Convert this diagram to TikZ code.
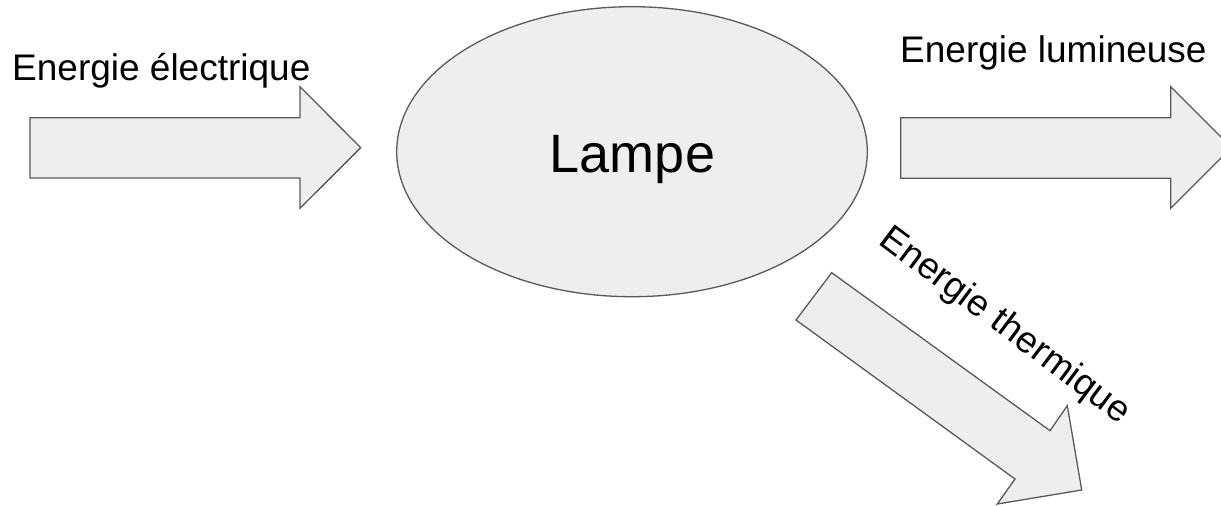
\documentclass[tikz,border=0pt]{standalone}
\usepackage{fontspec}
\setmainfont{Liberation Sans}
\usetikzlibrary{shapes.geometric}
\definecolor{edgegray}{HTML}{595959}
\definecolor{fillgray}{HTML}{EEEEEE}
\begin{document}
\begin{tikzpicture}[x=1pt,y=-1pt,
  blockarrow/.style={draw=edgegray,fill=fillgray,line width=1.3pt,line join=miter},
  lbl/.style={inner sep=0pt,font=\fontsize{37}{44}\selectfont},
  biglbl/.style={inner sep=0pt,font=\fontsize{54}{64}\selectfont}]
\clip (0,0) rectangle (1221,506);
\fill[white] (0,0) rectangle (1221,506);
% left arrow
\draw[blockarrow] (30,117.7) -- (300,117.7) -- (300,86.7) -- (360.7,147.7) -- (300,208.3) -- (300,178) -- (30,178) -- cycle;
% right arrow (tip cut by the frame)
\draw[blockarrow] (900.7,117.7) -- (1170.7,117.7) -- (1170.7,86.7) -- (1231.5,147.5) -- (1170.7,208.3) -- (1170.7,178.3) -- (900.7,178.3) -- cycle;
% thermal arrow
\draw[blockarrow] (831.7,272.7) -- (1050,430.7) -- (1067.3,405.7) -- (1081.7,490) -- (997.3,504) -- (1015,479) -- (796,320) -- cycle;
% lamp
\node[ellipse,draw=edgegray,fill=fillgray,line width=1.3pt,minimum width=470.6pt,minimum height=290pt,inner sep=0pt] (lampe) at (632,151.7) {};
\node[biglbl,anchor=base] (lampetxt) at (632.5,172.7) {Lampe};
\node[lbl,anchor=base west] (elec) at (12,80) {Energie électrique};
\node[lbl,anchor=base west] (lum) at (900,62) {Energie lumineuse};
\node[lbl,anchor=base west,rotate=-36.8] (therm) at (877.6,243.2) {Energie thermique};
\end{tikzpicture}
\end{document}
